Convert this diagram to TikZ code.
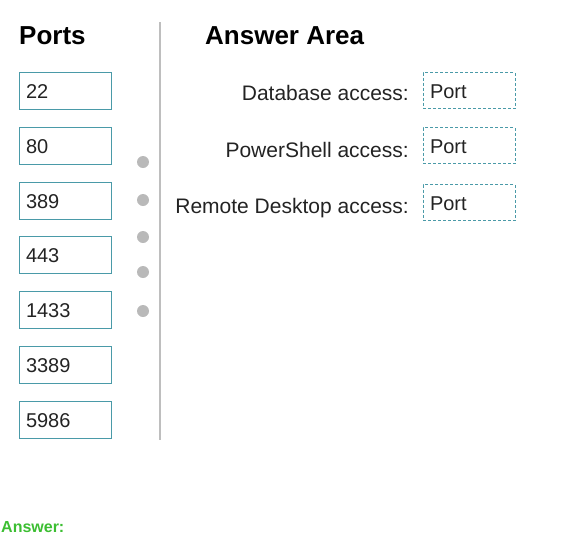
\documentclass[tikz,border=0pt]{standalone}
\usepackage{fontspec}
\setmainfont{Liberation Sans}
\definecolor{boxteal}{RGB}{74,154,168}
\definecolor{divgray}{RGB}{190,190,190}
\definecolor{dotgray}{RGB}{185,185,185}
\definecolor{ansgreen}{RGB}{60,190,50}
\definecolor{txtdark}{RGB}{35,35,35}
\begin{document}
\begin{tikzpicture}[x=1pt,y=-1pt,
  portbox/.style={draw=boxteal,line width=1pt,rectangle,minimum width=92pt,minimum height=37pt,
    text width=78pt,align=left,inner sep=0pt,text height=15pt,text depth=0pt,text=txtdark,
    font=\fontsize{20}{24}\selectfont},
  slotbox/.style={draw=boxteal,line width=1pt,dash pattern=on 3pt off 2pt,rectangle,
    minimum width=92pt,minimum height=36pt,text width=78pt,align=left,inner sep=0pt,
    text height=15pt,text depth=0pt,text=txtdark,font=\fontsize{20}{24}\selectfont},
  heading/.style={font=\fontsize{26}{30}\selectfont\bfseries,inner sep=0pt,anchor=base west},
  lbl/.style={font=\fontsize{21}{25}\selectfont,inner sep=0pt,anchor=base east,text=txtdark},
  dotc/.style={circle,fill=dotgray,inner sep=0pt,minimum size=12pt}]
\useasboundingbox (0,0) rectangle (568,555);
\node[heading] (hports) at (19,44) {Ports};
\node[heading] (harea) at (205,44) {Answer Area};
\node[portbox] (p22) at (65,90.5) {22};
\node[portbox] (p80) at (65,146) {80};
\node[portbox] (p389) at (65,200.5) {389};
\node[portbox] (p443) at (65,255) {443};
\node[portbox] (p1433) at (65,309.5) {1433};
\node[portbox] (p3389) at (65,364.5) {3389};
\node[portbox] (p5986) at (65,420) {5986};
\coordinate (ltop) at (160,22);
\coordinate (lbot) at (160,440);
\draw[divgray,line width=2pt] (ltop) -- (lbot);
\node[dotc] (d1) at (143,162) {};
\node[dotc] (d2) at (143,200) {};
\node[dotc] (d3) at (143,237) {};
\node[dotc] (d4) at (143,272) {};
\node[dotc] (d5) at (143,311) {};
\node[lbl] (ldb) at (409,100) {Database access:};
\node[lbl] (lps) at (409,157) {PowerShell access:};
\node[lbl] (lrd) at (409,213) {Remote Desktop access:};
\node[slotbox] (s1) at (469,90.5) {Port};
\node[slotbox] (s2) at (469,145.5) {Port};
\node[slotbox] (s3) at (469,202.5) {Port};
\node[font=\fontsize{16}{19}\selectfont\bfseries,text=ansgreen,inner sep=0pt,anchor=base west] (ans) at (1,532) {Answer:};
\end{tikzpicture}
\end{document}
